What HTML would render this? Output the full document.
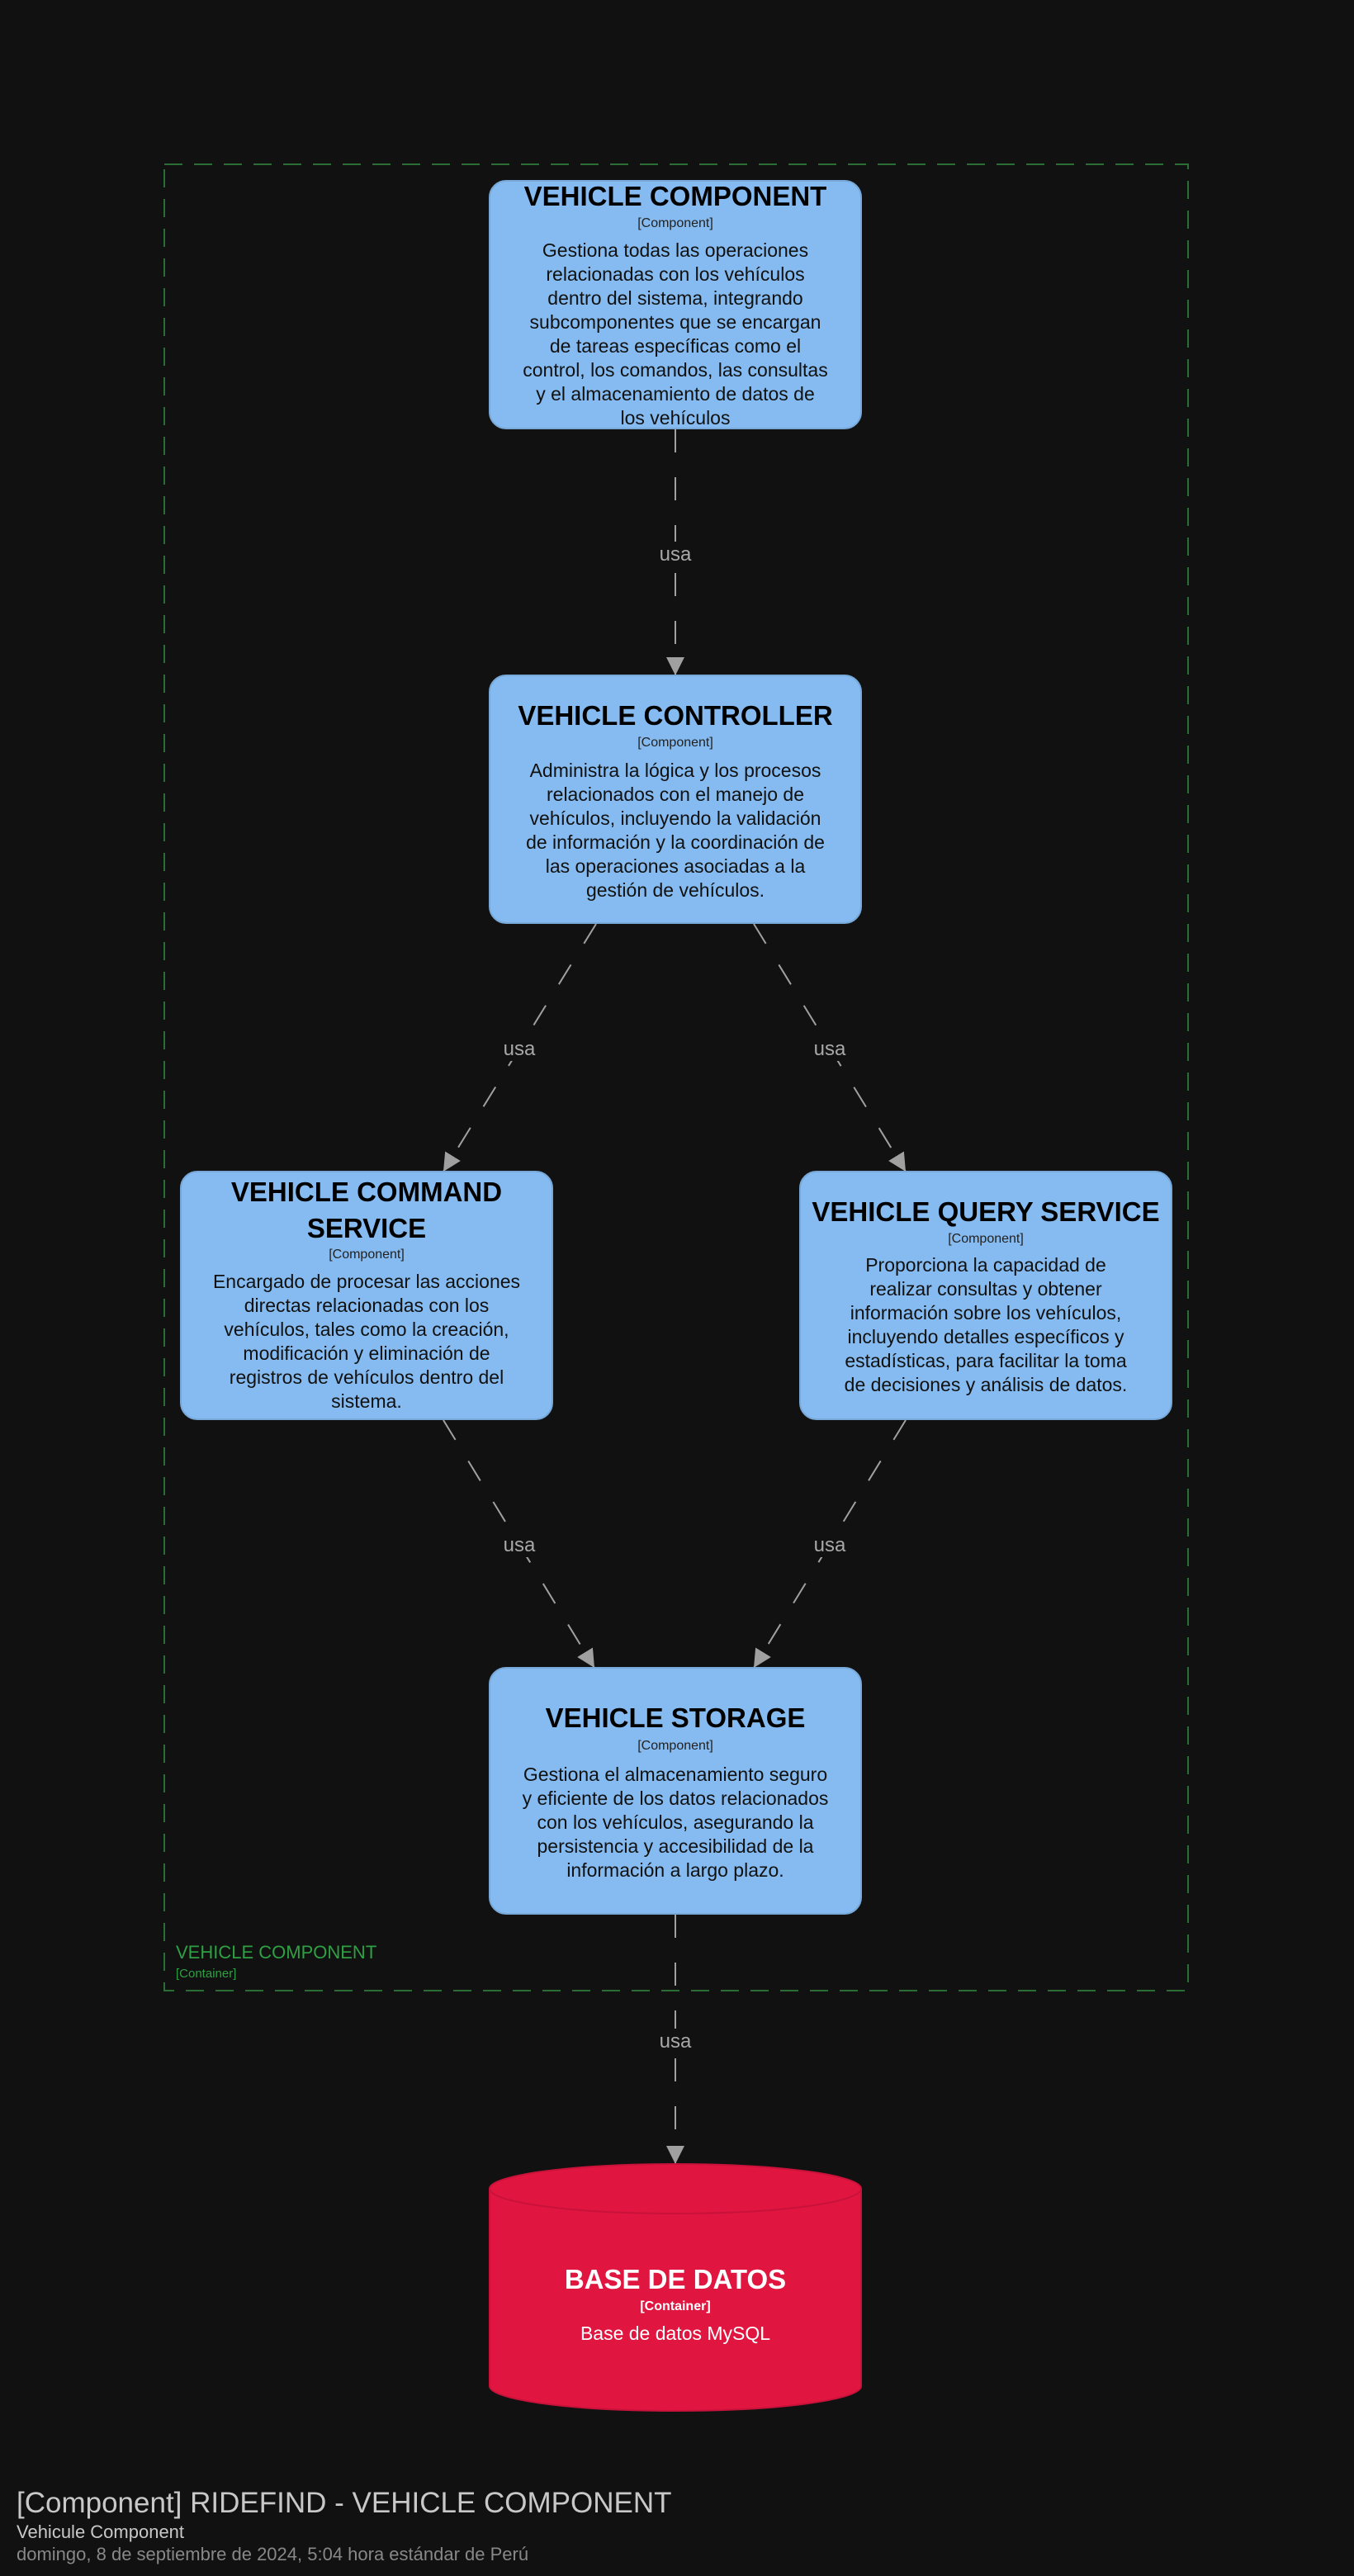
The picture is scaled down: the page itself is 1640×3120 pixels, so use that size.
<!DOCTYPE html>
<html><head><meta charset="utf-8"><style>
html,body{margin:0;padding:0;background:#111111;}
svg{display:block}
text{font-family:"Liberation Sans",sans-serif}
</style></head><body>
<svg width="1640" height="3120" viewBox="0 0 1640 3120" xmlns="http://www.w3.org/2000/svg">
<defs>
<marker id="ah" markerWidth="24" markerHeight="24" refX="22" refY="11" orient="auto" markerUnits="userSpaceOnUse">
<path d="M0,0 L22,11 L0,22 Z" fill="#a0a0a0"/>
</marker>
</defs>
<rect width="1640" height="3120" fill="#111111"/>
<!-- container -->
<rect x="199" y="199" width="1240" height="2212" fill="none" stroke="#2a6e35" stroke-width="2" stroke-dasharray="22 14"/>
<text x="213" y="2372" font-size="22" fill="#2ea043">VEHICLE COMPONENT</text>
<text x="213" y="2395" font-size="15" fill="#2ea043">[Container]</text>

<!-- connectors -->
<g stroke="#a0a0a0" stroke-width="2" stroke-dasharray="28 30" fill="none">
<line x1="818" y1="520" x2="818" y2="818" marker-end="url(#ah)"/>
<line x1="722" y1="1119" x2="537" y2="1419" marker-end="url(#ah)"/>
<line x1="913" y1="1119" x2="1097" y2="1419" marker-end="url(#ah)"/>
<line x1="537" y1="1720" x2="720" y2="2020" marker-end="url(#ah)"/>
<line x1="1097" y1="1720" x2="913" y2="2020" marker-end="url(#ah)"/>
<line x1="818" y1="2319" x2="818" y2="2621" marker-end="url(#ah)"/>
</g>
<g font-size="24" fill="#a8a8a8" text-anchor="middle">
<rect x="790" y="656" width="56" height="30" fill="#111"/>
<text x="818" y="679">usa</text>
<rect x="601" y="1255" width="56" height="30" fill="#111"/>
<text x="629" y="1278">usa</text>
<rect x="977" y="1255" width="56" height="30" fill="#111"/>
<text x="1005" y="1278">usa</text>
<rect x="601" y="1856" width="56" height="30" fill="#111"/>
<text x="629" y="1879">usa</text>
<rect x="977" y="1856" width="56" height="30" fill="#111"/>
<text x="1005" y="1879">usa</text>
<rect x="790" y="2457" width="56" height="30" fill="#111"/>
<text x="818" y="2480">usa</text>
</g>

<!-- boxes -->
<g fill="#85bbf0" stroke="#78a8d8" stroke-width="2">
<rect x="593" y="219" width="450" height="300" rx="20"/>
<rect x="593" y="818" width="450" height="300" rx="20"/>
<rect x="219" y="1419" width="450" height="300" rx="20"/>
<rect x="969" y="1419" width="450" height="300" rx="20"/>
<rect x="593" y="2020" width="450" height="298" rx="20"/>
</g>

<g text-anchor="middle" fill="#000">
<!-- VC -->
<text x="818" y="249" font-size="33" font-weight="bold">VEHICLE COMPONENT</text>
<text x="818" y="275" font-size="16" fill="#222">[Component]</text>
<g font-size="23" fill="#111">
<text x="818" y="311">Gestiona todas las operaciones</text>
<text x="818" y="340">relacionadas con los vehículos</text>
<text x="818" y="369">dentro del sistema, integrando</text>
<text x="818" y="398">subcomponentes que se encargan</text>
<text x="818" y="427">de tareas específicas como el</text>
<text x="818" y="456">control, los comandos, las consultas</text>
<text x="818" y="485">y el almacenamiento de datos de</text>
<text x="818" y="514">los vehículos</text>
</g>
<!-- Controller -->
<text x="818" y="878" font-size="33" font-weight="bold">VEHICLE CONTROLLER</text>
<text x="818" y="904" font-size="16" fill="#222">[Component]</text>
<g font-size="23" fill="#111">
<text x="818" y="941">Administra la lógica y los procesos</text>
<text x="818" y="970">relacionados con el manejo de</text>
<text x="818" y="999">vehículos, incluyendo la validación</text>
<text x="818" y="1028">de información y la coordinación de</text>
<text x="818" y="1057">las operaciones asociadas a la</text>
<text x="818" y="1086">gestión de vehículos.</text>
</g>
<!-- Command -->
<text x="444" y="1455" font-size="33" font-weight="bold">VEHICLE COMMAND</text>
<text x="444" y="1499" font-size="33" font-weight="bold">SERVICE</text>
<text x="444" y="1524" font-size="16" fill="#222">[Component]</text>
<g font-size="23" fill="#111">
<text x="444" y="1560">Encargado de procesar las acciones</text>
<text x="444" y="1589">directas relacionadas con los</text>
<text x="444" y="1618">vehículos, tales como la creación,</text>
<text x="444" y="1647">modificación y eliminación de</text>
<text x="444" y="1676">registros de vehículos dentro del</text>
<text x="444" y="1705">sistema.</text>
</g>
<!-- Query -->
<text x="1194" y="1479" font-size="33" font-weight="bold">VEHICLE QUERY SERVICE</text>
<text x="1194" y="1505" font-size="16" fill="#222">[Component]</text>
<g font-size="23" fill="#111">
<text x="1194" y="1540">Proporciona la capacidad de</text>
<text x="1194" y="1569">realizar consultas y obtener</text>
<text x="1194" y="1598">información sobre los vehículos,</text>
<text x="1194" y="1627">incluyendo detalles específicos y</text>
<text x="1194" y="1656">estadísticas, para facilitar la toma</text>
<text x="1194" y="1685">de decisiones y análisis de datos.</text>
</g>
<!-- Storage -->
<text x="818" y="2092" font-size="33" font-weight="bold">VEHICLE STORAGE</text>
<text x="818" y="2119" font-size="16" fill="#222">[Component]</text>
<g font-size="23" fill="#111">
<text x="818" y="2157">Gestiona el almacenamiento seguro</text>
<text x="818" y="2186">y eficiente de los datos relacionados</text>
<text x="818" y="2215">con los vehículos, asegurando la</text>
<text x="818" y="2244">persistencia y accesibilidad de la</text>
<text x="818" y="2273">información a largo plazo.</text>
</g>
</g>

<!-- cylinder -->
<path d="M593,2651 A225,30 0 0 1 1043,2651 L1043,2890 A225,30 0 0 1 593,2890 Z" fill="#e01640" stroke="#c8123a" stroke-width="2"/>
<path d="M593,2651 A225,30 0 0 0 1043,2651" fill="none" stroke="#c8123a" stroke-width="2"/>
<g text-anchor="middle" fill="#fff">
<text x="818" y="2772" font-size="33" font-weight="bold">BASE DE DATOS</text>
<text x="818" y="2798" font-size="16" font-weight="bold">[Container]</text>
<text x="818" y="2834" font-size="23">Base de datos MySQL</text>
</g>

<!-- footer -->
<text x="20" y="3043" font-size="35" fill="#c8c8c8">[Component] RIDEFIND - VEHICLE COMPONENT</text>
<text x="20" y="3074" font-size="22" fill="#c8c8c8">Vehicule Component</text>
<text x="20" y="3101" font-size="22" fill="#888">domingo, 8 de septiembre de 2024, 5:04 hora estándar de Perú</text>
</svg>
</body></html>
